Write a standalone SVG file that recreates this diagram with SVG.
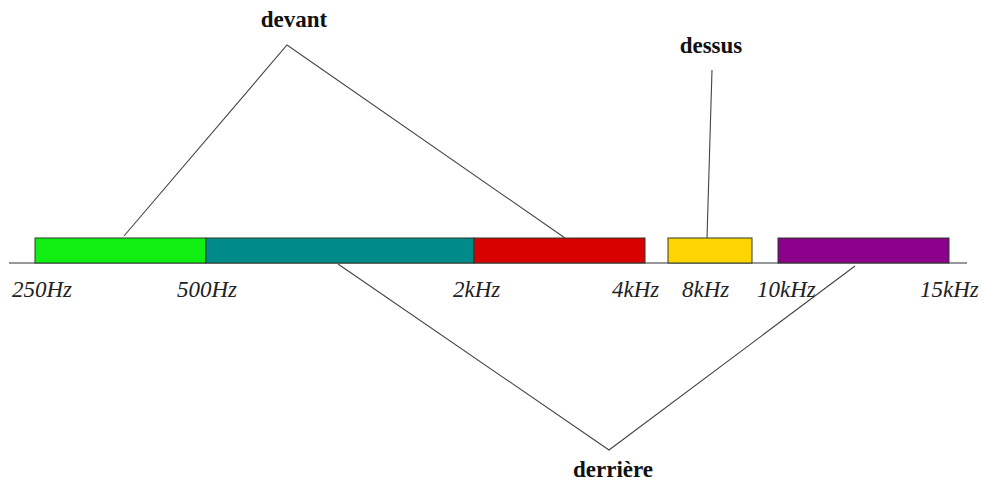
<svg xmlns="http://www.w3.org/2000/svg" width="984" height="483" viewBox="0 0 984 483">
<style>
.bar{stroke:#2a3a2a;stroke-width:1}
.ln{stroke:#444;stroke-width:1.1;fill:none}
.hz{font-family:"Liberation Serif","Times New Roman",serif;font-style:italic;font-size:23px;fill:#222}
.lb{font-family:"Liberation Serif","Times New Roman",serif;font-weight:bold;font-size:23px;fill:#111;text-anchor:middle}
</style>
<rect width="984" height="483" fill="#fff"/>
<g id="axis"><line x1="9" y1="263" x2="967" y2="263" stroke="#333" stroke-width="1.2"/></g>
<g id="band-250-500"><rect class="bar" x="35" y="238" width="171" height="25" fill="#11ee11"/></g>
<g id="band-500-2k"><rect class="bar" x="206" y="238" width="268" height="25" fill="#008b8b"/></g>
<g id="band-2k-4k"><rect class="bar" x="474" y="238" width="171" height="25" fill="#d90000"/></g>
<g id="band-8k"><rect class="bar" x="668" y="238" width="84" height="25" fill="#ffd500"/></g>
<g id="band-10k-15k"><rect class="bar" x="778" y="238" width="171" height="25" fill="#8b008b"/></g>
<g id="connectors">
<polyline class="ln" points="124,236 287,45 565,238"/>
<polyline class="ln" points="712,70 707,238"/>
<polyline class="ln" points="338,264 609,450 855,266"/>
</g>
<g id="freq-labels">
<text class="hz" x="12" y="297">250Hz</text>
<text class="hz" x="177" y="297">500Hz</text>
<text class="hz" x="453" y="297">2kHz</text>
<text class="hz" x="612" y="297">4kHz</text>
<text class="hz" x="682" y="297">8kHz</text>
<text class="hz" x="757" y="297">10kHz</text>
<text class="hz" x="920" y="297">15kHz</text>
</g>
<g id="devant"><text class="lb" x="294" y="27">devant</text></g>
<g id="dessus"><text class="lb" x="711" y="53">dessus</text></g>
<g id="derriere"><text class="lb" x="613" y="477">derrière</text></g>
</svg>
